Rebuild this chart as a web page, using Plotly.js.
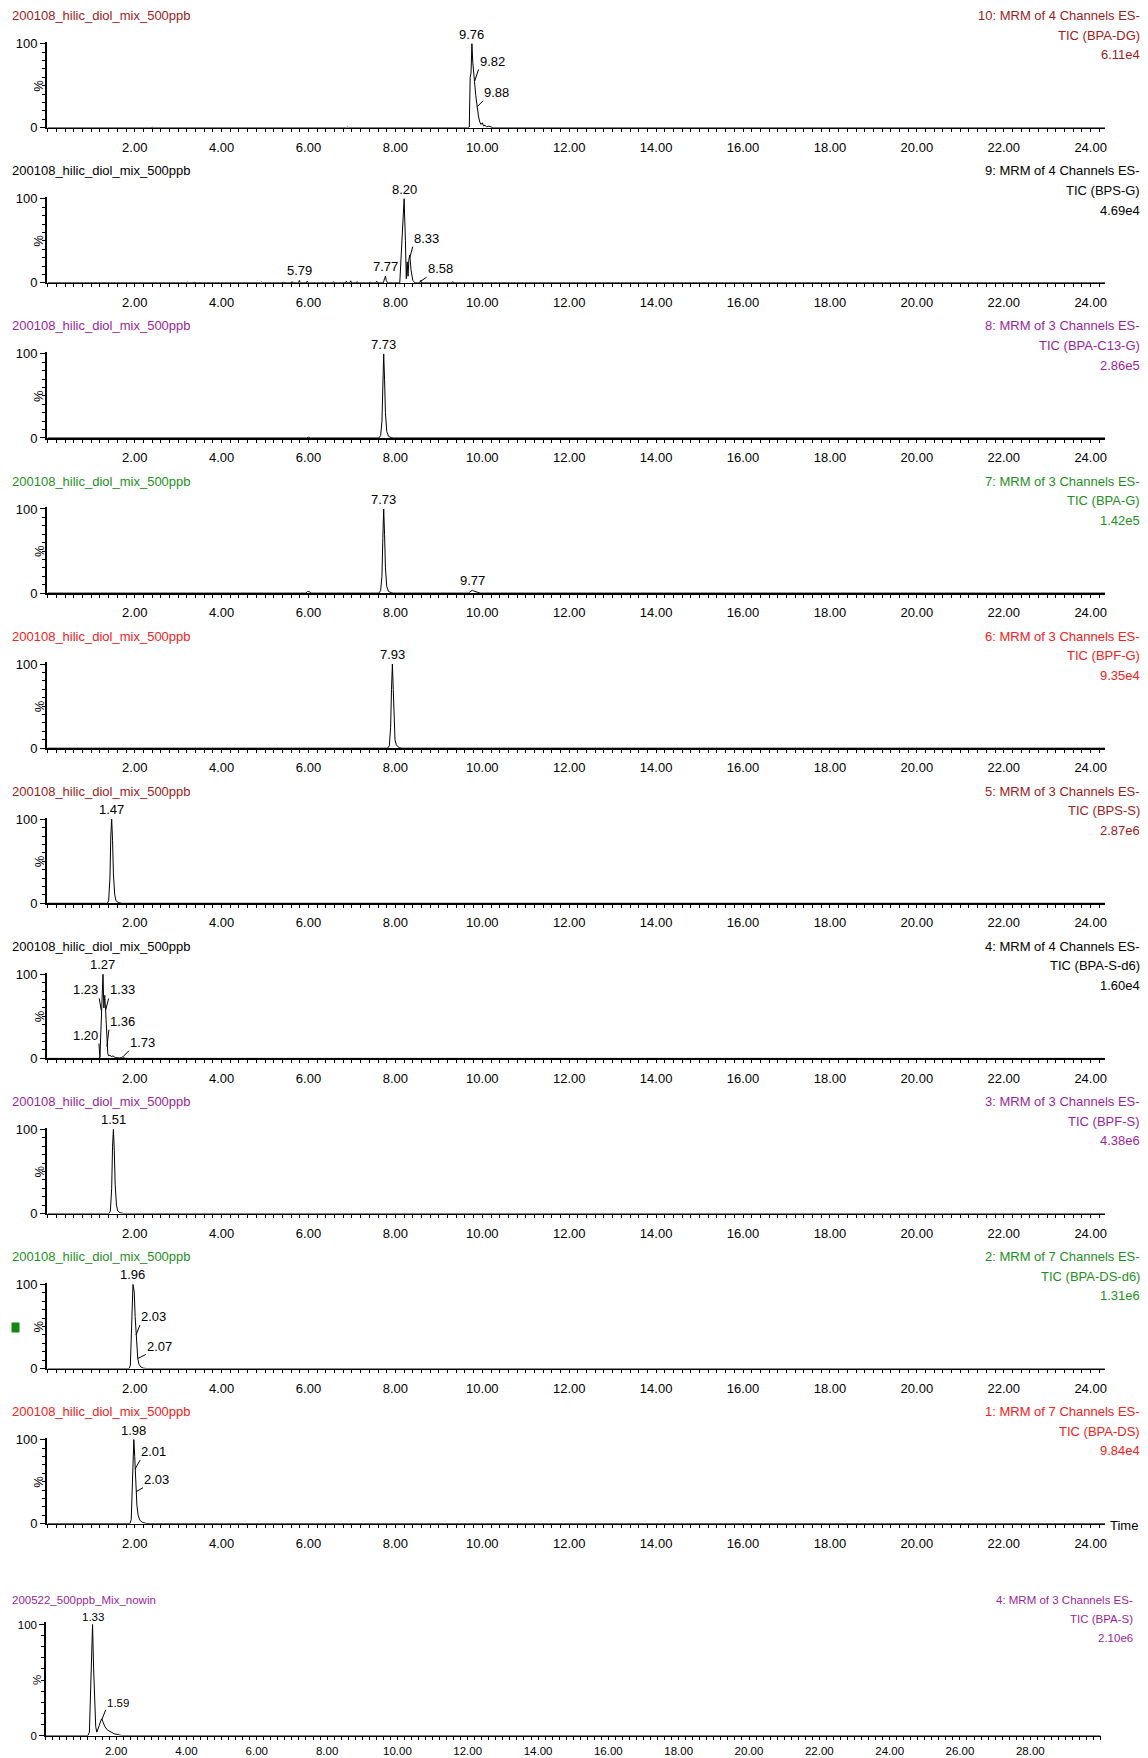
<!DOCTYPE html>
<html><head><meta charset="utf-8">
<script src="https://cdn.plot.ly/plotly-3.0.1.min.js"></script>
<style>html,body{margin:0;padding:0;background:#fff}#chart{width:1148px;height:1758px}</style>
</head><body><div id="chart"></div>
<script>
// ---------------- DATA (time in min, intensity in %) ----------------
const sampleName = ['200108_hilic_diol_mix_500ppb','200108_hilic_diol_mix_500ppb','200108_hilic_diol_mix_500ppb','200108_hilic_diol_mix_500ppb','200108_hilic_diol_mix_500ppb','200108_hilic_diol_mix_500ppb','200108_hilic_diol_mix_500ppb','200108_hilic_diol_mix_500ppb','200108_hilic_diol_mix_500ppb','200108_hilic_diol_mix_500ppb','200522_500ppb_Mix_nowin'];
const channelLine = ['10: MRM of 4 Channels ES-','9: MRM of 4 Channels ES-','8: MRM of 3 Channels ES-','7: MRM of 3 Channels ES-','6: MRM of 3 Channels ES-','5: MRM of 3 Channels ES-','4: MRM of 4 Channels ES-','3: MRM of 3 Channels ES-','2: MRM of 7 Channels ES-','1: MRM of 7 Channels ES-','4: MRM of 3 Channels ES-'];
const ticLine = ['TIC (BPA-DG)','TIC (BPS-G)','TIC (BPA-C13-G)','TIC (BPA-G)','TIC (BPF-G)','TIC (BPS-S)','TIC (BPA-S-d6)','TIC (BPF-S)','TIC (BPA-DS-d6)','TIC (BPA-DS)','TIC (BPA-S)'];
const intensity = ['6.11e4','4.69e4','2.86e5','1.42e5','9.35e4','2.87e6','1.60e4','4.38e6','1.31e6','9.84e4','2.10e6'];
const timeTickLabels24 = ['2.00','4.00','6.00','8.00','10.00','12.00','14.00','16.00','18.00','20.00','22.00','24.00'];
const timeTickLabels30 = ['2.00','4.00','6.00','8.00','10.00','12.00','14.00','16.00','18.00','20.00','22.00','24.00','26.00','28.00'];
const pctTickLabels = ['0','100'];

const chrom_BPA_DG = [[0,0],[2.38,0],[2.40,1],[2.42,0],[6.88,0],[6.90,0.8],[6.92,0],[9.66,0],[9.70,1],[9.72,60],[9.74,65],[9.76,100],[9.78,78],[9.80,62],[9.82,55],[9.85,38],[9.88,25],[9.91,14],[9.94,7],[9.97,4],[10.00,6],[10.03,2],[10.06,3],[10.10,1],[10.15,2],[10.20,1],[10.25,0],[24.33,0]];
const chrom_BPS_G = [[0,0],[0.50,0],[0.52,0.8],[0.54,0],[1.20,0],[1.22,0.6],[1.24,0],[1.80,0],[1.82,0.7],[1.84,0],[2.60,0],[2.62,0.6],[2.64,0],[3.20,0],[3.22,1.0],[3.24,0],[3.35,0],[3.37,1.2],[3.39,0],[4.10,0],[4.12,0.8],[4.14,0],[4.90,0],[4.92,1.0],[4.94,0],[5.40,0],[5.42,1.2],[5.44,0],[5.60,0],[5.62,1.5],[5.64,0],[5.77,0],[5.79,3],[5.81,0],[5.95,0],[5.97,2],[5.99,0],[6.30,0],[6.32,1.2],[6.34,0],[6.55,0],[6.57,1.5],[6.59,0],[6.85,0],[6.87,2],[6.89,0],[6.95,0],[6.97,2.5],[6.99,0],[7.10,0],[7.12,1.5],[7.14,0],[7.40,0],[7.42,1.2],[7.44,0],[7.55,0],[7.57,2],[7.59,0],[7.72,0],[7.75,5],[7.77,8],[7.79,3],[7.82,0],[8.10,0],[8.14,40],[8.17,75],[8.20,100],[8.23,50],[8.25,5],[8.27,25],[8.29,8],[8.31,28],[8.33,33],[8.36,15],[8.40,3],[8.45,0],[8.56,0],[8.58,3],[8.60,0],[9.30,0],[9.32,1.5],[9.34,0],[24.33,0]];
const chrom_BPA_C13_G = [[0,0],[5.96,0],[6.00,1],[6.04,0],[7.62,0],[7.66,3],[7.69,20],[7.71,65],[7.73,100],[7.75,70],[7.77,30],[7.80,8],[7.84,2],[7.90,0.5],[7.95,0],[24.33,0]];
const chrom_BPA_G = [[0,0],[5.94,0],[5.98,2],[6.02,1.5],[6.06,0],[7.62,0],[7.66,3],[7.69,20],[7.71,65],[7.73,100],[7.75,70],[7.77,30],[7.80,8],[7.84,2],[7.90,0.5],[7.95,0],[9.68,0],[9.72,1.5],[9.75,3],[9.77,3.5],[9.80,2.5],[9.85,1.5],[9.90,0.5],[9.95,0],[24.33,0]];
const chrom_BPF_G = [[0,0],[7.82,0],[7.86,3],[7.89,25],[7.91,70],[7.93,100],[7.95,70],[7.97,30],[7.99,10],[8.02,4],[8.05,2],[8.10,0.5],[8.15,0],[24.33,0]];
const chrom_BPS_S = [[0,0],[1.37,0],[1.40,3],[1.43,30],[1.45,80],[1.47,100],[1.49,75],[1.51,35],[1.54,10],[1.57,3],[1.62,1],[1.70,0],[24.33,0]];
const chrom_BPA_S_d6 = [[0,0],[1.18,0],[1.20,2],[1.22,30],[1.23,57],[1.25,70],[1.27,100],[1.29,60],[1.31,75],[1.33,57],[1.35,30],[1.36,14],[1.38,6],[1.40,3],[1.43,4],[1.46,2],[1.50,3],[1.55,1],[1.60,0.5],[1.65,0.5],[1.70,1],[1.73,2],[1.76,0.5],[1.80,0],[24.33,0]];
const chrom_BPF_S = [[0,0],[1.41,0],[1.44,3],[1.47,30],[1.49,80],[1.51,100],[1.53,75],[1.55,35],[1.58,10],[1.61,3],[1.66,1],[1.75,0],[24.33,0]];
const chrom_BPA_DS_d6 = [[0,0],[1.87,0],[1.90,4],[1.92,35],[1.94,90],[1.96,100],[1.97,98],[1.99,90],[2.01,62],[2.03,40],[2.05,22],[2.07,12],[2.10,5],[2.14,2],[2.20,0.5],[2.30,0],[24.33,0]];
const chrom_BPA_DS = [[0,0],[1.89,0],[1.92,5],[1.94,40],[1.96,85],[1.98,100],[2.00,80],[2.01,65],[2.02,50],[2.03,38],[2.05,22],[2.08,10],[2.12,4],[2.18,1.5],[2.25,0.5],[2.35,0],[24.33,0]];
const chrom_BPA_S = [[0,0],[1.20,0],[1.24,3],[1.27,40],[1.30,85],[1.33,100],[1.36,60],[1.39,22],[1.42,8],[1.45,3],[1.48,5],[1.52,9],[1.56,13],[1.59,15],[1.63,12],[1.68,8],[1.75,5],[1.85,3],[1.95,1.5],[2.05,0.8],[2.15,0],[30,0]];

const peaks_BPA_DG = [[9.76,100],[9.82,55],[9.88,25]];
const peaks_BPS_G = [[8.20,100],[8.33,30],[8.58,2],[7.77,8],[5.79,3]];
const peaks_BPA_C13_G = [[7.73,100]];
const peaks_BPA_G = [[7.73,100],[9.77,3.5]];
const peaks_BPF_G = [[7.93,100]];
const peaks_BPS_S = [[1.47,100]];
const peaks_BPA_S_d6 = [[1.27,100],[1.23,57],[1.33,57],[1.36,14],[1.20,1],[1.73,2]];
const peaks_BPF_S = [[1.51,100]];
const peaks_BPA_DS_d6 = [[1.96,100],[2.03,40],[2.07,12]];
const peaks_BPA_DS = [[1.98,100],[2.01,65],[2.03,38]];
const peaks_BPA_S = [[1.33,100],[1.59,14]];

// ---------------- STYLE / POSITION ----------------
const chroms = [chrom_BPA_DG,chrom_BPS_G,chrom_BPA_C13_G,chrom_BPA_G,chrom_BPF_G,chrom_BPS_S,chrom_BPA_S_d6,chrom_BPF_S,chrom_BPA_DS_d6,chrom_BPA_DS,chrom_BPA_S];
const peaks = [peaks_BPA_DG,peaks_BPS_G,peaks_BPA_C13_G,peaks_BPA_G,peaks_BPF_G,peaks_BPS_S,peaks_BPA_S_d6,peaks_BPF_S,peaks_BPA_DS_d6,peaks_BPA_DS,peaks_BPA_S];
const leaders = [
 [null,{ax:4,ay:-12,xa:'left'},{ax:6,ay:-6,xa:'left'}],
 [null,{ax:3,ay:-11,xa:'left'},{ax:6,ay:-4,xa:'left'},null,null],
 [null],
 [null,null],
 [null],[null],
 [null,{ax:-2,ay:-12,xa:'right'},{ax:3,ay:-12,xa:'left'},{ax:2,ay:-17,xa:'left'},{ax:-1,ay:-14,xa:'right'},{ax:6,ay:-6,xa:'left'}],
 [null],
 [null,{ax:4,ay:-10,xa:'left'},{ax:8,ay:-4,xa:'left'}],
 [null,{ax:5,ay:-9,xa:'left'},{ax:7,ay:-4,xa:'left'}],
 [null,{ax:4,ay:-10,xa:'left'}]
];
const DR='#9e1b1b', PU='#9b1f9b', GR='#1e8f1e', RD='#f52020', BK='#000000';
const colors=[DR,BK,PU,GR,RD,DR,BK,PU,GR,RD,PU];
const FONT="'Liberation Sans',Arial,sans-serif";
const W=1148,H=1758;
const geom=[];
for(let i=0;i<10;i++){
  geom.push({top:43.7+155.1*i,bottom:127.8+155.1*i,xL:46.5,xR:1105,range:[-0.03,24.33],fs:13,labels:timeTickLabels24,
    tY:[15.7+155.1*i,35.3+155.1*i,54.9+155.1*i],tX:1141,pctX:39,stand:4});
}
geom.push({top:1624.5,bottom:1735.5,xL:45.8,xR:1100.6,range:[0,30],fs:11.5,labels:timeTickLabels30,
  tY:[1599.8,1618.8,1637.9],tX:1134,pctX:37,stand:1});

const data=[];
const layout={width:W,height:H,margin:{l:0,r:0,t:0,b:0},showlegend:false,
  paper_bgcolor:'#fff',plot_bgcolor:'rgba(0,0,0,0)',font:{family:FONT,color:'#000'},
  annotations:[],shapes:[]};
const fy=px=>1-px/H, fx=px=>px/W;

geom.forEach((g,i)=>{
  const n=i+1, sfx=(n===1?'':String(n));
  const pxPer=(g.bottom-g.top)/100;
  const yDom=[fy(g.bottom), fy(g.bottom-102*pxPer)];
  const xDom=[fx(g.xL), fx(g.xR)];
  const tickvals=g.labels.map(s=>parseFloat(s));
  const oddvals=[]; for(let v=1;v<g.range[1];v+=2) oddvals.push(v);
  layout['xaxis'+sfx]={domain:xDom,range:g.range,anchor:'y'+sfx,showline:true,linecolor:'#000',linewidth:1.5,
    showgrid:false,zeroline:false,ticks:'outside',ticklen:3,tickwidth:1,tickcolor:'#000',
    tickmode:'array',tickvals:tickvals,ticktext:g.labels,tickfont:{size:g.fs,color:'#000',family:FONT},
    ticklabelstandoff:g.stand,
    minor:{tickmode:'linear',tick0:0,dtick:0.2,ticks:'outside',ticklen:3,tickwidth:1,tickcolor:'#000',showgrid:false},
    fixedrange:true};
  layout['xaxis'+(n+11)]={domain:xDom,range:g.range,anchor:'y'+sfx,overlaying:'x'+sfx,showline:false,showgrid:false,zeroline:false,
    ticks:'outside',ticklen:7,tickwidth:1,tickcolor:'#000',tickmode:'array',tickvals:oddvals,ticktext:oddvals.map(()=>''),fixedrange:true};
  layout['yaxis'+sfx]={domain:yDom,range:[0,102],anchor:'x'+sfx,showline:true,linecolor:'#000',linewidth:1.5,
    showgrid:false,zeroline:false,ticks:'outside',ticklen:5,tickwidth:1,tickcolor:'#000',
    tickmode:'array',tickvals:pctTickLabels.map(Number),ticktext:pctTickLabels,tickfont:{size:g.fs,color:'#000',family:FONT},
    minor:{tickmode:'linear',tick0:0,dtick:10,ticks:'outside',ticklen:3,tickwidth:1,tickcolor:'#000',showgrid:false},
    fixedrange:true};
  const c=chroms[i];
  data.push({type:'scatter',mode:'lines',x:c.map(d=>d[0]),y:c.map(d=>d[1]),xaxis:'x'+sfx,yaxis:'y'+sfx,
    line:{color:'#000',width:1},hoverinfo:'skip'});
  peaks[i].forEach((pk,j)=>{
    const st=(leaders[i]||[])[j];
    const a={x:pk[0],y:pk[1],xref:'x'+sfx,yref:'y'+sfx,text:pk[0].toFixed(2),font:{size:g.fs,color:'#000',family:FONT}};
    if(st){
      Object.assign(a,{showarrow:true,arrowhead:0,arrowwidth:1,arrowcolor:'#000',ax:st.ax,ay:st.ay,axref:'pixel',ayref:'pixel',
        xanchor:st.xa,yanchor:'bottom',standoff:0,borderpad:0});
    } else {
      Object.assign(a,{showarrow:false,xanchor:'center',yanchor:'bottom',yshift:1,borderpad:0});
    }
    layout.annotations.push(a);
  });
  const col=colors[i];
  layout.annotations.push({xref:'paper',yref:'paper',x:fx(11),y:fy(g.tY[0]),xanchor:'left',yanchor:'middle',showarrow:false,
    text:sampleName[i],font:{size:g.fs,color:col,family:FONT},borderpad:0});
  [channelLine[i],ticLine[i],intensity[i]].forEach((t,k)=>{
    layout.annotations.push({xref:'paper',yref:'paper',x:fx(g.tX),y:fy(g.tY[k]),xanchor:'right',yanchor:'middle',showarrow:false,
      text:t,font:{size:g.fs,color:col,family:FONT},borderpad:0});
  });
  layout.annotations.push({xref:'paper',yref:'paper',x:fx(g.pctX),y:fy((g.top+g.bottom)/2),xanchor:'center',yanchor:'middle',
    showarrow:false,text:'%',textangle:-90,font:{size:g.fs,color:'#000',family:FONT},borderpad:0});
});
layout.annotations.push({xref:'paper',yref:'paper',x:fx(1109),y:fy(1525),xanchor:'left',yanchor:'middle',showarrow:false,
  text:'Time',font:{size:13,color:'#000',family:FONT},borderpad:0});
layout.shapes.push({type:'rect',xref:'paper',yref:'paper',x0:fx(11.5),x1:fx(19.5),y0:fy(1332.5),y1:fy(1322.5),
  fillcolor:'#118811',line:{width:0}});

Plotly.newPlot('chart',data,layout,{staticPlot:true,displayModeBar:false});
</script>
</body></html>
